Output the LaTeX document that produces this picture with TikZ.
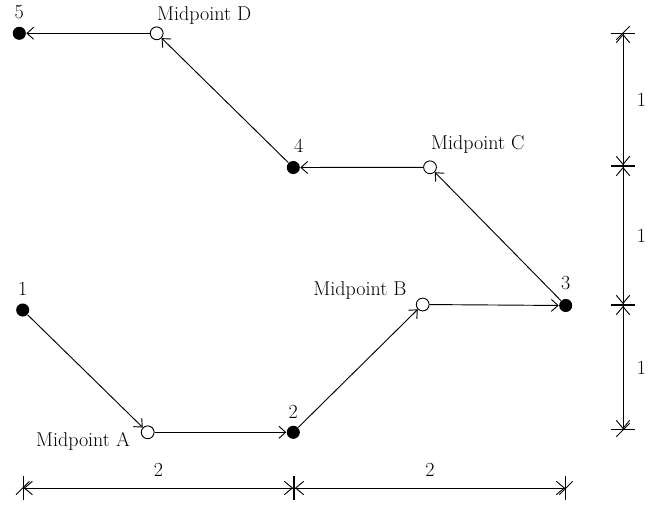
\documentclass[tikz,border=0pt]{standalone}
\usetikzlibrary{arrows.meta,positioning}
\tikzset{
	stop/.style={circle,fill=black,inner sep=0pt,minimum size=9.8pt},
	halfway/.style={circle,draw,fill=white,inner sep=0pt,minimum size=9.6pt},
	tag/.style={inner sep=0pt},
	hop/.style={-{Straight Barb[length=5pt,width=9pt]}},
	dimline/.style={{Bar[width=18pt,sep=0pt]Straight Barb[length=6pt,width=10pt,sep=0pt]}-{Straight Barb[length=6pt,width=10pt,sep=0pt]Bar[width=18pt,sep=0pt]}},
	slash/.style={line width=0.7pt},
}
\begin{document}
\begin{tikzpicture}[x=0.75pt, y=-0.75pt, line width=0.7pt, font=\fontsize{15}{18}\selectfont]
	\useasboundingbox (0,0) rectangle (652,504);
	%points
	\node[stop] (p1) at (22.7,310) {};
	\node[stop] (p2) at (293.3,432.3) {};
	\node[stop] (p3) at (565.7,305.5) {};
	\node[stop] (p4) at (293.3,167.5) {};
	\node[stop] (p5) at (19.3,33.3) {};
	%midpoints
	\node[halfway] (mA) at (147.7,432.3) {};
	\node[halfway] (mB) at (422.7,304.5) {};
	\node[halfway] (mC) at (430,167.3) {};
	\node[halfway] (mD) at (156.7,33.3) {};
	%labels
	\node[tag, above=5pt of p1] (n1) {1};
	\node[tag, above=5pt of p2] (n2) {2};
	\node[tag, above=6pt of p3] (n3) {3};
	\node[tag, above=6pt of p4, xshift=4pt] (n4) {4};
	\node[tag, above=5pt of p5] (n5) {5};
	\node[tag, below left=0pt and 13pt] (lA) at (mA) {Midpoint A};
	\node[tag, above left=3.4pt and 11.8pt] (lB) at (mB) {Midpoint B};
	\node[tag, above right=10pt and 0.5pt] (lC) at (mC) {Midpoint C};
	\node[tag, above right=6pt and 0pt] (lD) at (mD) {Midpoint D};
	%path
	\draw[hop] (p1) -- (mA);
	\draw[hop] (mA) -- (p2);
	\draw[hop] (p2) -- (mB);
	\draw[hop] (mB) -- (p3);
	\draw[hop] (p3) -- (mC);
	\draw[hop] (mC) -- (p4);
	\draw[hop] (p4) -- (mD);
	\draw[hop] (mD) -- (p5);
	%dimensions
	\coordinate (b0) at (22.7,488);
	\coordinate (b1) at (294,488);
	\coordinate (b2) at (566,488);
	\coordinate (r0) at (623,33);
	\coordinate (r1) at (623,166);
	\coordinate (r2) at (623,305);
	\coordinate (r3) at (623,430);
	\draw[dimline] (b0) -- node[tag, midway, above=8pt] (d1) {2} (b1);
	\draw[dimline] (b1) -- node[tag, midway, above=8pt] (d2) {2} (b2);
	\draw[dimline] (r0) -- node[tag, midway, right=10pt] (d3) {1} (r1);
	\draw[dimline] (r1) -- node[tag, midway, right=10pt] (d4) {1} (r2);
	\draw[dimline] (r2) -- node[tag, midway, right=10pt] (d5) {1} (r3);
	\foreach \c in {b0,b2,r0,r3}
	\draw[slash] (\c) +(-5pt,-5pt) -- +(5pt,5pt);
\end{tikzpicture}
\end{document}
